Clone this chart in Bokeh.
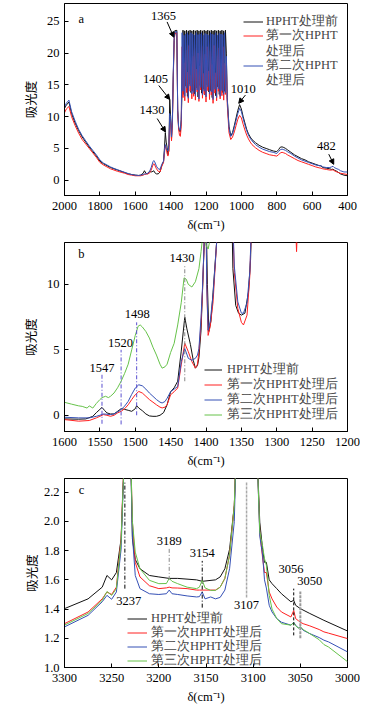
from bokeh.plotting import figure
from bokeh.models import (Legend, LegendItem, Arrow, NormalHead, FixedTicker, Range1d,
                          NumeralTickFormatter, ColumnDataSource)
from bokeh.layouts import column
from bokeh.embed import file_html
from bokeh.resources import INLINE
from bokeh.core.properties import value

# ---------------- data: panel a ----------------
xa_left = [2000, 1990, 1975, 1960, 1940, 1920, 1900, 1880, 1860, 1840, 1820, 1800, 1780, 1760,
           1740, 1720, 1700, 1680, 1660, 1640, 1620, 1600, 1580, 1570, 1555, 1548, 1540, 1530,
           1520, 1510, 1500, 1495, 1490, 1480, 1470, 1460, 1450, 1440, 1435, 1430, 1425, 1420,
           1415, 1410, 1405, 1400, 1395, 1390, 1385, 1380, 1375, 1370, 1365, 1360, 1355, 1350,
           1345, 1340]
xa_noise = [1335, 1330, 1325, 1320, 1315, 1310, 1305, 1300, 1295, 1290,
            1285, 1280, 1275, 1270, 1265, 1260, 1255, 1250, 1245, 1240,
            1235, 1230, 1225, 1220, 1215, 1210, 1205, 1200, 1195, 1190,
            1185, 1180, 1175, 1170, 1165, 1160, 1155, 1150, 1145, 1140,
            1135, 1130, 1125, 1120, 1115, 1110, 1105, 1100, 1095, 1090]
xa_right = [1085, 1080, 1070, 1060, 1050, 1040, 1030, 1020, 1010, 1000, 990, 980, 970, 960,
            950, 940, 920, 900, 880, 860, 840, 820, 800, 790, 780, 770, 760, 750, 740, 720,
            700, 680, 660, 640, 620, 600, 580, 560, 550, 540, 520, 500, 490, 482, 475, 460,
            450, 440, 420, 400]

ya_black_left = [11.3, 11.8, 12.3, 10.5, 9.0, 7.8, 6.8, 6.0, 5.2, 4.5, 3.8, 3.0, 2.6, 2.3, 2.0,
                 1.8, 1.6, 1.4, 1.2, 1.0, 0.9, 0.8, 0.75, 0.8, 1.1, 1.5, 1.1, 1.0, 1.4, 1.3, 1.4,
                 1.5, 1.2, 1.0, 1.0, 1.3, 2.3, 3.0, 5.0, 7.5, 6.0, 5.2, 4.0, 4.6, 12.7, 10.0, 6.5,
                 9.5, 16.5, 22.0, 23.6, 23.5, 23.6, 11.0, 8.3, 7.7, 7.6, 9.5]
ya_black_noise = [14.2, 23.6, 13.5, 23.5, 14.8, 23.6, 13.2, 23.5, 15.1, 23.6,
                  13.8, 23.5, 14.0, 23.6, 13.6, 23.5, 14.5, 23.6, 13.1, 23.5,
                  14.9, 23.6, 13.7, 23.5, 14.3, 23.6, 13.4, 23.5, 15.0, 23.6,
                  13.9, 23.5, 14.1, 23.6, 13.0, 23.5, 14.6, 23.6, 13.3, 23.5,
                  14.7, 23.6, 13.5, 23.5, 14.4, 23.6, 13.8, 23.5, 14.0, 23.6]
ya_black_right = [20.0, 13.0, 8.5, 7.0, 7.5, 8.6, 9.8, 11.0, 11.9, 11.2, 10.0, 9.0, 8.0, 7.3,
                  6.8, 6.4, 5.9, 5.5, 5.2, 5.0, 4.8, 4.6, 4.5, 4.8, 5.2, 5.25, 5.15, 5.0, 4.8,
                  4.4, 4.0, 3.7, 3.4, 3.2, 2.9, 2.7, 2.5, 2.3, 2.25, 2.0, 1.9, 1.8, 1.7, 1.75,
                  1.6, 1.4, 1.2, 1.0, 0.8, 0.7]

ya_red_left = [10.6, 11.2, 11.6, 10.0, 8.6, 7.4, 6.4, 5.7, 5.0, 4.3, 3.6, 2.8, 2.4, 2.1, 1.8,
               1.6, 1.4, 1.25, 1.1, 0.9, 0.8, 0.7, 0.7, 0.7, 0.8, 0.9, 0.95, 1.0, 1.1, 1.6, 2.4,
               2.6, 2.4, 1.8, 1.4, 1.3, 2.2, 2.8, 4.2, 5.5, 5.0, 4.2, 3.8, 4.9, 9.5, 9.0, 6.2,
               8.8, 16.0, 22.0, 23.2, 23.0, 23.2, 10.8, 8.1, 7.1, 6.9, 8.5]
ya_red_noise = [21.0, 13.0, 18.5, 12.5, 20.5, 13.8, 17.0, 12.2, 21.2, 14.0,
                16.5, 12.8, 19.5, 13.2, 21.0, 12.6, 17.5, 13.9, 20.0, 12.4,
                18.0, 14.2, 21.1, 12.9, 16.8, 13.5, 19.8, 12.3, 21.0, 14.1,
                17.2, 12.7, 20.3, 13.4, 18.2, 12.1, 21.2, 13.7, 16.9, 12.5,
                19.6, 14.0, 20.8, 12.8, 17.6, 13.3, 21.0, 12.6, 18.4, 13.5]
ya_red_right = [18.0, 12.0, 7.5, 6.4, 6.8, 7.6, 8.6, 9.6, 10.2, 9.8, 8.8, 7.9, 7.1, 6.5, 6.0,
                5.6, 5.1, 4.7, 4.4, 4.2, 4.0, 3.9, 3.8, 4.0, 4.3, 4.4, 4.3, 4.2, 4.0, 3.7, 3.4,
                3.1, 2.9, 2.7, 2.5, 2.3, 2.1, 1.95, 1.9, 1.8, 1.7, 1.6, 1.6, 1.65, 1.5, 1.3,
                1.2, 1.1, 1.0, 0.9]

ya_blue_left = [11.5, 12.1, 12.6, 10.8, 9.3, 8.0, 7.0, 6.2, 5.4, 4.7, 4.0, 3.2, 2.7, 2.4, 2.1,
                1.85, 1.65, 1.45, 1.25, 1.05, 0.9, 0.8, 0.75, 0.8, 0.9, 1.0, 1.0, 1.1, 1.3, 2.0,
                2.9, 3.1, 2.9, 2.2, 1.8, 1.7, 2.5, 3.0, 4.6, 5.6, 5.0, 4.7, 4.6, 5.5, 10.5, 9.5,
                6.8, 9.5, 17.0, 22.5, 23.4, 23.3, 23.4, 11.2, 8.5, 7.9, 7.9, 9.5]
ya_blue_noise = [23.2, 14.0, 22.8, 13.2, 23.0, 14.5, 23.2, 12.9, 22.9, 14.8,
                 23.2, 13.6, 23.0, 13.8, 22.8, 13.3, 23.2, 14.2, 22.9, 12.8,
                 23.0, 14.6, 23.2, 13.4, 22.8, 14.0, 23.1, 13.1, 23.0, 14.7,
                 22.8, 13.6, 23.2, 13.9, 23.0, 12.7, 22.9, 14.3, 23.2, 13.0,
                 22.8, 14.4, 23.1, 13.2, 23.0, 14.1, 22.9, 13.5, 23.2, 13.8]
ya_blue_right = [19.5, 12.8, 8.2, 6.9, 7.3, 8.3, 9.4, 10.5, 11.3, 10.8, 9.7, 8.7, 7.8, 7.1,
                 6.6, 6.2, 5.6, 5.2, 4.9, 4.7, 4.5, 4.4, 4.2, 4.5, 4.8, 4.9, 4.8, 4.7, 4.5, 4.2,
                 3.8, 3.5, 3.2, 3.0, 2.8, 2.6, 2.4, 2.3, 2.3, 2.1, 2.0, 2.0, 2.1, 2.2, 2.0, 1.8,
                 1.7, 1.5, 1.3, 1.3]

peaks_a_text = ["1365", "1405", "1430", "1010", "482"]
peaks_a_x = [1440, 1486, 1505, 990, 520]
peaks_a_y = [25.9, 16.0, 11.0, 14.4, 5.4]
arrows_a_x0 = [1420, 1467, 1476, 977, 506]
arrows_a_y0 = [24.9, 14.9, 9.7, 13.4, 4.1]
arrows_a_x1 = [1382, 1405, 1429, 1015, 478]
arrows_a_y1 = [22.5, 12.7, 7.6, 12.1, 2.5]

# ---------------- data: panel b ----------------
xb_black = [1600, 1580, 1570, 1560, 1555, 1550, 1547, 1543, 1540, 1535, 1530, 1525, 1520, 1515,
            1510, 1505, 1500, 1498, 1495, 1490, 1485, 1480, 1475, 1470, 1465, 1460, 1455, 1450,
            1445, 1440, 1435, 1430, 1427, 1422, 1418, 1415, 1412, 1410, 1407, 1405, 1402, 1400,
            1398, 1396, 1393, 1390, 1385, 1380, 1365, 1362, 1358, 1354, 1350, 1345, 1340, 1337,
            1335]
yb_black = [-0.28, -0.3, -0.28, -0.08, 0.2, 0.45, 0.6, 0.35, 0.18, 0.1, 0.1, 0.3, 0.5, 0.45,
            0.38, 0.3, 0.5, 0.73, 0.55, 0.35, 0.1, -0.05, -0.08, -0.08, 0.0, 0.2, 0.8, 1.8, 2.1,
            2.6, 4.9, 7.5, 6.6, 5.4, 4.2, 3.6, 3.8, 4.4, 6.5, 9.4, 14, 16, 10, 6.4, 7.2, 9.4,
            13.2, 20, 20, 11.2, 8.4, 7.8, 7.65, 7.8, 9.4, 11.9, 16]
xb_rb = [1600, 1580, 1565, 1555, 1550, 1545, 1540, 1535, 1530, 1525, 1520, 1515, 1510, 1505,
         1500, 1495, 1490, 1485, 1480, 1475, 1470, 1465, 1462, 1458, 1455, 1450, 1445, 1440,
         1435, 1430, 1425, 1420, 1415, 1412, 1410, 1407, 1405, 1402, 1400, 1399, 1397, 1394,
         1390, 1385, 1380, 1365, 1360, 1355, 1350, 1347, 1342, 1338, 1335]
yb_red = [-0.33, -0.45, -0.4, -0.2, -0.08, 0.05, 0.0, -0.08, 0.0, 0.18, 0.3, 0.5, 0.8, 1.2,
          1.57, 1.82, 1.7, 1.45, 1.2, 1.0, 0.8, 0.62, 0.56, 0.62, 0.8, 1.57, 1.8, 2.08, 3.85,
          5.5, 4.86, 4.1, 3.6, 3.9, 4.86, 7.0, 9.4, 14, 16, 10, 6.1, 6.8, 8.66, 13.2, 20, 20,
          10.9, 8.15, 7.1, 6.9, 7.65, 10.7, 16]
yb_blue = [-0.15, -0.2, -0.2, -0.08, 0.0, 0.1, 0.08, 0.05, 0.1, 0.25, 0.43, 0.7, 1.06, 1.6,
           2.08, 2.33, 2.25, 2.0, 1.7, 1.45, 1.2, 1.0, 0.94, 1.05, 1.3, 1.8, 2.0, 2.2, 4.1, 5.1,
           4.35, 4.2, 4.35, 4.6, 5.1, 7.5, 9.7, 14, 16, 10, 6.5, 7.2, 9.2, 13.2, 20, 20, 11.4,
           8.66, 7.8, 7.8, 8.6, 11.0, 16]
xb_green = [1600, 1590, 1580, 1575, 1568, 1565, 1560, 1555, 1550, 1547, 1542, 1538, 1535, 1530,
            1525, 1520, 1515, 1510, 1505, 1500, 1496, 1493, 1490, 1485, 1480, 1475, 1470, 1465,
            1462, 1458, 1455, 1450, 1445, 1440, 1435, 1431, 1428, 1425, 1420, 1415, 1410, 1407,
            1405, 1402, 1400, 1397, 1394, 1390]
yb_green = [0.99, 0.85, 0.72, 0.68, 0.55, 0.72, 0.55, 0.9, 1.2, 1.35, 1.45, 1.35, 1.45, 1.7,
            2.1, 2.6, 3.2, 3.9, 5.0, 6.1, 6.8, 6.9, 6.75, 6.4, 5.9, 5.2, 4.6, 3.9, 3.6, 3.7, 3.9,
            4.8, 5.5, 6.9, 8.6, 10.5, 10.4, 10.0, 9.8, 10.2, 11.2, 12.5, 13.5, 14, 13.0, 12.7,
            13.5, 16]
xb_red_spike = [1273, 1272, 1271]
yb_red_spike = [14.0, 12.5, 14.0]

vlines_b_x = [1547, 1520, 1498, 1430]
vlines_b_y0 = [-0.65, -0.7, 0.0, 2.6]
vlines_b_y1 = [3.1, 5.0, 7.1, 11.5]
peaks_b_text = ["1547", "1520", "1498", "1430"]
peaks_b_x = [1547, 1521, 1497, 1434]
peaks_b_y = [3.6, 5.5, 7.7, 12.0]

# ---------------- data: panel c ----------------
xc_black = [3300, 3275, 3260, 3255, 3250, 3245, 3240, 3238, 3236, 3230, 3228, 3225, 3220, 3210,
            3200, 3189, 3180, 3160, 3154, 3140, 3135, 3130, 3125, 3120, 3118, 3096, 3093, 3090,
            3088, 3086, 3083, 3080, 3075, 3070, 3060, 3057, 3055, 3050, 3040, 3025, 3000]
yc_black = [1.403, 1.47, 1.55, 1.63, 1.60, 1.65, 1.88, 2.22, 2.5, 2.5, 1.88, 1.74, 1.676, 1.63,
            1.62, 1.61, 1.61, 1.60, 1.59, 1.60, 1.62, 1.676, 1.81, 2.11, 2.5, 2.5, 1.995, 1.81,
            1.72, 1.72, 1.60, 1.574, 1.54, 1.505, 1.45, 1.46, 1.426, 1.403, 1.37, 1.323, 1.25]
xc = [3300, 3275, 3260, 3255, 3250, 3245, 3240, 3238, 3236, 3230, 3228, 3225, 3220, 3210, 3200,
      3192, 3189, 3186, 3180, 3170, 3160, 3157, 3154, 3151, 3145, 3140, 3135, 3130, 3125, 3120,
      3118, 3096, 3093, 3090, 3088, 3086, 3083, 3080, 3075, 3070, 3060, 3057, 3055, 3052, 3050,
      3047, 3040, 3030, 3025, 3020, 3000]
yc_red = [1.30, 1.38, 1.47, 1.517, 1.50, 1.55, 1.88, 2.25, 2.5, 2.5,
          1.995, 1.72, 1.62, 1.56, 1.54, 1.545, 1.55, 1.545, 1.544, 1.54,
          1.53, 1.53, 1.53, 1.53, 1.53, 1.53, 1.55, 1.61, 1.77, 2.11,
          2.5, 2.5, 1.93, 1.75, 1.65, 1.65, 1.517, 1.47, 1.414, 1.38,
          1.346, 1.39, 1.335, 1.32, 1.31, 1.30, 1.285, 1.26, 1.244, 1.235, 1.198]
yc_blue = [1.278, 1.357, 1.45, 1.494, 1.467, 1.517, 1.81, 2.2, 2.5, 2.5,
           1.90, 1.63, 1.54, 1.505, 1.50, 1.505, 1.53, 1.505, 1.50, 1.49,
           1.483, 1.485, 1.517, 1.47, 1.483, 1.47, 1.48, 1.53, 1.676, 2.0,
           2.5, 2.5, 1.90, 1.77, 1.60, 1.544, 1.426, 1.38, 1.335, 1.31,
           1.29, 1.31, 1.29, 1.27, 1.278, 1.255, 1.232, 1.205, 1.187, 1.175, 1.107]
yc_green = [1.29, 1.37, 1.46, 1.52, 1.494, 1.54, 1.86, 2.22, 2.5, 2.5,
            2.0, 1.79, 1.676, 1.597, 1.574, 1.575, 1.61, 1.59, 1.574, 1.55,
            1.54, 1.55, 1.597, 1.545, 1.528, 1.528, 1.55, 1.61, 1.77, 2.11,
            2.5, 2.5, 1.93, 1.83, 1.745, 1.70, 1.494, 1.40, 1.335, 1.30,
            1.29, 1.307, 1.285, 1.27, 1.278, 1.26, 1.232, 1.19, 1.157, 1.14, 1.04]

vlines_c_x = [3236, 3189, 3154, 3107, 3057, 3050]
vlines_c_y0 = [1.54, 1.60, 1.41, 1.48, 1.22, 1.20]
vlines_c_y1 = [2.27, 1.82, 1.73, 2.27, 1.54, 1.52]
peaks_c_text = ["3237", "3189", "3154", "3107", "3056", "3050"]
peaks_c_x = [3232, 3189, 3154, 3107, 3060, 3040]
peaks_c_y = [1.453, 1.863, 1.785, 1.43, 1.676, 1.59]

labels_bc = ["HPHT处理前", "第一次HPHT处理后", "第二次HPHT处理后", "第三次HPHT处理后"]
labels_a = ["HPHT处理前", "第一次HPHT", "处理后", "第二次HPHT", "处理后"]

# ---------------- styling ----------------
SERIF = "Liberation Serif"
CJK = "Noto Sans CJK SC"
BLACK = "#111111"
RED = "#ff2020"
BLUE = "#3550b5"
GREEN = "#66c24a"
FS = "12.5px"
ROW_H = 17


def make_fig(height, xr, yr, bt, bb, xticks, yticks, ystand):
    p = figure(width=360, height=height, x_range=Range1d(*xr), y_range=Range1d(*yr),
               output_backend="svg", toolbar_location=None, title=None,
               min_border_left=64, min_border_right=13, min_border_top=bt, min_border_bottom=bb)
    p.grid.visible = False
    p.outline_line_color = "black"
    p.outline_line_width = 1
    p.xaxis.ticker = FixedTicker(ticks=xticks)
    p.yaxis.ticker = FixedTicker(ticks=yticks)
    for ax in (p.xaxis[0], p.yaxis[0]):
        ax.major_tick_in = 4
        ax.major_tick_out = 0
        ax.minor_tick_line_color = None
        ax.axis_line_color = "black"
        ax.major_tick_line_color = "black"
        ax.major_label_text_font = SERIF
        ax.major_label_text_font_size = FS
        ax.major_label_text_color = "black"
        ax.major_label_text_line_height = 1.0
        ax.major_label_standoff = 5
        ax.axis_label_text_font_style = "normal"
        ax.axis_label_text_font_size = FS
        ax.axis_label_text_color = "black"
        ax.axis_label_text_line_height = 1.0
    p.xaxis.major_label_standoff = 6
    p.xaxis.axis_label = "δ(cm⁻¹)"
    p.xaxis.axis_label_text_font = SERIF
    p.xaxis.axis_label_standoff = 5
    p.yaxis.axis_label = "吸光度"
    p.yaxis.axis_label_text_font = CJK
    p.yaxis.axis_label_standoff = ystand
    return p


def add_labels(p, xs, ys, texts):
    src = ColumnDataSource(dict(x=xs, y=ys, t=texts))
    p.text(x="x", y="y", text="t", source=src, text_font=value(SERIF), text_font_size=FS,
           text_align="center", text_baseline="middle", text_color="black")


def add_rows(p, renderers, labels, x_off, centers, frame_bottom, glyph_w, standoff):
    # one single-item legend per row so that the row pitch matches the original
    for r, lab, yc in zip(renderers, labels, centers):
        leg = Legend(items=[LegendItem(label=lab, renderers=[r])],
                     location=(x_off, frame_bottom - yc - ROW_H / 2), padding=0, margin=0,
                     glyph_width=glyph_w, glyph_height=ROW_H, label_height=ROW_H,
                     label_standoff=standoff, label_text_font=SERIF, label_text_font_size=FS,
                     label_text_line_height=1.0, border_line_color=None,
                     background_fill_color=None)
        p.add_layout(leg)


# ---------------- panel a ----------------
pa = make_fig(235, (2000, 400), (-2.4, 27.8), 3, 40,
              [2000, 1800, 1600, 1400, 1200, 1000, 800, 600, 400], [0, 5, 10, 15, 20, 25], 4)
xa = xa_left + xa_noise + xa_right
ra_k = pa.line(xa, ya_black_left + ya_black_noise + ya_black_right, line_color=BLACK, line_width=1)
ra_r = pa.line(xa, ya_red_left + ya_red_noise + ya_red_right, line_color=RED, line_width=1)
ra_b = pa.line(xa, ya_blue_left + ya_blue_noise + ya_blue_right, line_color=BLUE, line_width=1)
ra_none = pa.line([], [], line_alpha=0)
add_labels(pa, peaks_a_x, peaks_a_y, peaks_a_text)
add_labels(pa, [1905], [25.3], ["a"])
asrc = ColumnDataSource(dict(x0=arrows_a_x0, y0=arrows_a_y0, x1=arrows_a_x1, y1=arrows_a_y1))
pa.add_layout(Arrow(end=NormalHead(size=5, fill_color="black", line_color="black"),
                    x_start="x0", y_start="y0", x_end="x1", y_end="y1", source=asrc,
                    line_color="black", line_width=1))
add_rows(pa, [ra_k, ra_r, ra_none, ra_b, ra_none], labels_a, 179,
         [21, 35, 51, 65, 80.5], 195, 20, 3)

# ---------------- panel b ----------------
pb = make_fig(235, (1600, 1200), (-1.24, 13.2), 7, 38,
              [1600, 1550, 1500, 1450, 1400, 1350, 1300, 1250, 1200], [0, 5, 10], 4)
rb_k = pb.line(xb_black, yb_black, line_color=BLACK, line_width=1)
rb_r = pb.line(xb_rb, yb_red, line_color=RED, line_width=1)
pb.line(xb_red_spike, yb_red_spike, line_color=RED, line_width=1)
rb_b = pb.line(xb_rb, yb_blue, line_color=BLUE, line_width=1)
rb_g = pb.line(xb_green, yb_green, line_color=GREEN, line_width=1)
vb_colors = ["#5a4fd0", "#5a4fd0", "#5a4fd0", "#888888"]
for i in range(len(vlines_b_x)):
    pb.segment(x0=[vlines_b_x[i]], y0=[vlines_b_y0[i]], x1=[vlines_b_x[i]], y1=[vlines_b_y1[i]],
               line_color=vb_colors[i], line_width=1, line_dash="4 2 1 2")
add_labels(pb, peaks_b_x, peaks_b_y, peaks_b_text)
add_labels(pb, [1576], [12.3], ["b"])
add_rows(pb, [rb_k, rb_r, rb_b, rb_g], labels_bc, 140, [370, 385, 400, 415.5], 432, 18, 5)

# ---------------- panel c ----------------
pc = make_fig(241, (3300, 3000), (1.0, 2.294), 8, 44,
              [3300, 3250, 3200, 3150, 3100, 3050, 3000], [1.0, 1.2, 1.4, 1.6, 1.8, 2.0, 2.2], 0)
pc.yaxis.formatter = NumeralTickFormatter(format="0.0")
rc_k = pc.line(xc_black, yc_black, line_color=BLACK, line_width=1)
rc_r = pc.line(xc, yc_red, line_color=RED, line_width=1)
rc_b = pc.line(xc, yc_blue, line_color=BLUE, line_width=1)
rc_g = pc.line(xc, yc_green, line_color=GREEN, line_width=1)
vc_colors = ["black", "#888888", "black", "#aaaaaa", "black", "#999999"]
vc_dash = ["4 2 1 2", "4 2 1 2", "4 2 1 2", "3 1", "3 2", "3 1"]
vc_width = [1, 1, 1, 1.5, 1, 2]
for i in range(len(vlines_c_x)):
    pc.segment(x0=[vlines_c_x[i]], y0=[vlines_c_y0[i]], x1=[vlines_c_x[i]], y1=[vlines_c_y1[i]],
               line_color=vc_colors[i], line_width=vc_width[i], line_dash=vc_dash[i])
add_labels(pc, peaks_c_x, peaks_c_y, peaks_c_text)
add_labels(pc, [3282], [2.216], ["c"])
add_rows(pc, [rc_k, rc_r, rc_b, rc_g], labels_bc, 63, [618, 632, 646, 660], 667, 20, 4)

layout = column(pa, pb, pc, spacing=0)
open("out.html", "w").write(file_html(layout, INLINE))
